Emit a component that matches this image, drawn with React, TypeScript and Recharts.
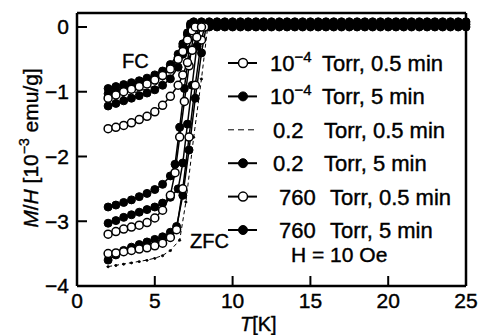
import React from 'react';
import { LineChart, Line, XAxis, YAxis } from 'recharts';

const FONT = '"Liberation Sans", Arial, Helvetica, sans-serif';

// ---- axis ticks ----
const xTicks = [0, 5, 10, 15, 20, 25];
const yTicks = [-4, -3, -2, -1, 0];

// ---- FC (field-cooled) curves ----
const fcT_A = [2, 2.5, 3, 3.5, 4, 4.5, 5, 5.5, 6, 6.5, 6.8, 7.1, 7.4, 7.6];
const fcM_A = [-1.1, -1.05, -1.0, -0.96, -0.92, -0.88, -0.82, -0.75, -0.65, -0.5, -0.38, -0.2, -0.06, 0.0];

const fcT_B = [2, 2.5, 3, 3.5, 4, 4.5, 5, 5.5, 6, 6.5, 6.8, 7.1, 7.3];
const fcM_B = [-0.95, -0.92, -0.89, -0.86, -0.83, -0.79, -0.74, -0.68, -0.58, -0.42, -0.26, -0.09, 0.05];

const fcT_C = [2, 2.5, 3, 3.5, 4, 4.5, 5, 5.5, 6, 6.5, 6.8, 7.1, 7.4];
const fcM_C = [-1.15, -1.11, -1.07, -1.03, -0.99, -0.95, -0.9, -0.83, -0.72, -0.55, -0.36, -0.16, 0.0];

const fcT_D = [2, 2.5, 3, 3.5, 4, 4.5, 5, 5.5, 6, 6.5, 6.8, 7.1, 7.3];
const fcM_D = [-1.22, -1.18, -1.14, -1.1, -1.06, -1.02, -0.97, -0.9, -0.8, -0.62, -0.42, -0.2, 0.0];

const fcT_E = [2, 2.5, 3, 3.5, 4, 4.5, 5, 5.5, 6, 6.5, 6.8, 7.1, 7.4, 7.7, 8.0];
const fcM_E = [-1.57, -1.55, -1.52, -1.48, -1.43, -1.38, -1.31, -1.21, -1.07, -0.9, -0.74, -0.55, -0.36, -0.16, 0.0];

const fcT_F = [2, 2.5, 3, 3.5, 4, 4.5, 5, 5.5, 6, 6.5, 6.8, 7.1, 7.3];
const fcM_F = [-1.03, -1.0, -0.96, -0.92, -0.88, -0.84, -0.79, -0.72, -0.62, -0.47, -0.3, -0.12, 0.03];

// flat part above Tc (dense markers along zero)
const tailT = [7.5, 8, 8.5, 9, 9.5, 10, 10.5, 11, 11.5, 12, 12.5, 13, 13.5, 14, 14.5, 15, 15.5, 16, 16.5, 17, 17.5, 18, 18.5, 19, 19.5, 20, 20.5, 21, 21.5, 22, 22.5, 23, 23.5, 24, 24.5, 25];
const tailM_B = [0.08, 0.08, 0.08, 0.08, 0.08, 0.08, 0.08, 0.08, 0.08, 0.08, 0.08, 0.08, 0.08, 0.08, 0.08, 0.08, 0.08, 0.08, 0.08, 0.08, 0.08, 0.08, 0.08, 0.08, 0.08, 0.08, 0.08, 0.08, 0.08, 0.08, 0.08, 0.08, 0.08, 0.08, 0.08, 0.08];
const tailM_D = [0.0, 0.0, 0.0, 0.0, 0.0, 0.0, 0.0, 0.0, 0.0, 0.0, 0.0, 0.0, 0.0, 0.0, 0.0, 0.0, 0.0, 0.0, 0.0, 0.0, 0.0, 0.0, 0.0, 0.0, 0.0, 0.0, 0.0, 0.0, 0.0, 0.0, 0.0, 0.0, 0.0, 0.0, 0.0, 0.0];
const tailM_F = [0.04, 0.04, 0.04, 0.04, 0.04, 0.04, 0.04, 0.04, 0.04, 0.04, 0.04, 0.04, 0.04, 0.04, 0.04, 0.04, 0.04, 0.04, 0.04, 0.04, 0.04, 0.04, 0.04, 0.04, 0.04, 0.04, 0.04, 0.04, 0.04, 0.04, 0.04, 0.04, 0.04, 0.04, 0.04, 0.04];

// ---- ZFC (zero-field-cooled) curves ----
const zfcT_A = [2, 2.5, 3, 3.5, 4, 4.5, 5, 5.5, 6, 6.3, 6.6, 6.9, 7.2, 7.5, 7.7];
const zfcM_A = [-3.2, -3.16, -3.12, -3.09, -3.06, -3.02, -2.95, -2.83, -2.6, -2.25, -1.7, -1.15, -0.6, -0.1, 0];

const zfcT_B = [2, 2.5, 3, 3.5, 4, 4.5, 5, 5.5, 6, 6.3, 6.6, 6.9, 7.2, 7.4];
const zfcM_B = [-2.78, -2.75, -2.71, -2.67, -2.62, -2.57, -2.51, -2.43, -2.3, -2.12, -1.55, -0.95, -0.35, 0];

const zfcT_C = [2, 2.5, 3, 3.5, 4, 4.5, 5, 5.5, 6, 6.6, 7.0, 7.5, 8.0, 8.4];
const zfcM_C = [-3.7, -3.68, -3.66, -3.64, -3.62, -3.6, -3.57, -3.53, -3.45, -3.29, -2.7, -1.7, -0.8, 0];

const zfcT_D = [2, 2.5, 3, 3.5, 4, 4.5, 5, 5.5, 6, 6.5, 6.8, 7.1, 7.4, 7.7, 7.9];
const zfcM_D = [-3.03, -2.99, -2.94, -2.9, -2.86, -2.82, -2.78, -2.72, -2.63, -2.5, -2.1, -1.5, -0.9, -0.3, 0];

const zfcT_E = [2, 2.5, 3, 3.5, 4, 4.5, 5, 5.5, 6, 6.4, 6.8, 7.2, 7.6, 8.0, 8.2];
const zfcM_E = [-3.5, -3.49, -3.47, -3.45, -3.43, -3.41, -3.38, -3.34, -3.25, -3.13, -2.5, -1.7, -0.9, -0.2, 0];

const zfcT_F = [2, 2.5, 3, 3.5, 4, 4.5, 5, 5.5, 6, 6.4, 6.8, 7.2, 7.6, 8.0, 8.3];
const zfcM_F = [-3.6, -3.52, -3.45, -3.4, -3.36, -3.32, -3.28, -3.24, -3.17, -3.08, -2.6, -1.9, -1.1, -0.4, 0];

// ---- legend labels ----
const legendNums = ['10', '10', '0.2', '0.2', '760', '760'];
const legendSups = ['−4', '−4', '', '', '', ''];
const legendRest = ['Torr, 0.5 min', 'Torr, 5 min', 'Torr, 0.5 min', 'Torr, 5 min', 'Torr, 0.5 min', 'Torr, 5 min'];
const legendKinds = ['open', 'filled', 'dashed', 'filled', 'open', 'filled'];

const pts = (t: number[], m: number[]) => t.map((T, i) => ({ T, m: m[i] }));

const openDot = { r: 4, fill: '#fff', stroke: '#000', strokeWidth: 1.5 };
const filledDot = { r: 4, fill: '#000', stroke: '#000', strokeWidth: 1 };

const fmtY = (v: number) => (v < 0 ? `−${Math.abs(v)}` : `${v}`);

export default function App() {
  const axisStyle = { stroke: '#000', strokeWidth: 2.5 };
  const tickLineStyle = { stroke: '#000', strokeWidth: 2 };
  const tickFont = { fill: '#000', fontSize: 21, fontFamily: FONT, stroke: '#000', strokeWidth: 0.4 };

  const rowY0 = 63;
  const rowStep = 33.4;

  return (
    <div style={{ position: 'absolute', left: 0, top: 0, width: 478, height: 335, background: '#fff' }}>
      <LineChart width={478} height={335} margin={{ top: 12, right: 11, bottom: 48, left: 76 }}>
        <XAxis
          xAxisId="main"
          dataKey="T"
          type="number"
          domain={[0, 25]}
          ticks={xTicks}
          height={1}
          tickSize={-10}
          tickMargin={17}
          axisLine={axisStyle}
          tickLine={tickLineStyle}
          tick={tickFont}
        />
        <XAxis
          xAxisId="top"
          orientation="top"
          dataKey="T"
          type="number"
          domain={[0, 25]}
          ticks={xTicks}
          height={1}
          tickSize={-10}
          axisLine={axisStyle}
          tickLine={tickLineStyle}
          tick={false}
        />
        <YAxis
          yAxisId="main"
          type="number"
          domain={[-4, 0.216]}
          ticks={yTicks}
          width={1}
          tickSize={-10}
          tickMargin={18}
          axisLine={axisStyle}
          tickLine={tickLineStyle}
          tick={tickFont}
          tickFormatter={fmtY}
        />
        <YAxis
          yAxisId="right"
          orientation="right"
          type="number"
          domain={[-4, 0.216]}
          ticks={yTicks}
          width={1}
          tickSize={-10}
          axisLine={axisStyle}
          tickLine={tickLineStyle}
          tick={false}
        />

        {/* dashed series: 0.2 Torr, 0.5 min */}
        <Line xAxisId="main" yAxisId="main" data={pts(fcT_C, fcM_C)} dataKey="m" stroke="#000" strokeWidth={1} strokeDasharray="4 3" dot={false} isAnimationActive={false} />
        <Line xAxisId="main" yAxisId="main" data={pts(zfcT_C, zfcM_C)} dataKey="m" stroke="#000" strokeWidth={1} strokeDasharray="4 3" dot={{ r: 1.2, fill: '#000', stroke: '#000' }} isAnimationActive={false} />

        {/* filled markers */}
        <Line xAxisId="main" yAxisId="main" data={pts(zfcT_B, zfcM_B)} dataKey="m" stroke="#000" strokeWidth={1.5} dot={filledDot} isAnimationActive={false} />
        <Line xAxisId="main" yAxisId="main" data={pts(zfcT_D, zfcM_D)} dataKey="m" stroke="#000" strokeWidth={1.5} dot={filledDot} isAnimationActive={false} />
        <Line xAxisId="main" yAxisId="main" data={pts(zfcT_F, zfcM_F)} dataKey="m" stroke="#000" strokeWidth={1.5} dot={filledDot} isAnimationActive={false} />
        <Line xAxisId="main" yAxisId="main" data={pts(fcT_B, fcM_B)} dataKey="m" stroke="#000" strokeWidth={1.5} dot={filledDot} isAnimationActive={false} />
        <Line xAxisId="main" yAxisId="main" data={pts(fcT_D, fcM_D)} dataKey="m" stroke="#000" strokeWidth={1.5} dot={filledDot} isAnimationActive={false} />
        <Line xAxisId="main" yAxisId="main" data={pts(fcT_F, fcM_F)} dataKey="m" stroke="#000" strokeWidth={1.5} dot={filledDot} isAnimationActive={false} />
        <Line xAxisId="main" yAxisId="main" data={pts(tailT, tailM_B)} dataKey="m" stroke="#000" strokeWidth={1.5} dot={filledDot} isAnimationActive={false} />
        <Line xAxisId="main" yAxisId="main" data={pts(tailT, tailM_D)} dataKey="m" stroke="#000" strokeWidth={1.5} dot={filledDot} isAnimationActive={false} />
        <Line xAxisId="main" yAxisId="main" data={pts(tailT, tailM_F)} dataKey="m" stroke="#000" strokeWidth={1.5} dot={filledDot} isAnimationActive={false} />

        {/* open markers */}
        <Line xAxisId="main" yAxisId="main" data={pts(zfcT_A, zfcM_A)} dataKey="m" stroke="#000" strokeWidth={1.5} dot={openDot} isAnimationActive={false} />
        <Line xAxisId="main" yAxisId="main" data={pts(zfcT_E, zfcM_E)} dataKey="m" stroke="#000" strokeWidth={1.5} dot={openDot} isAnimationActive={false} />
        <Line xAxisId="main" yAxisId="main" data={pts(fcT_A, fcM_A)} dataKey="m" stroke="#000" strokeWidth={1.5} dot={openDot} isAnimationActive={false} />
        <Line xAxisId="main" yAxisId="main" data={pts(fcT_E, fcM_E)} dataKey="m" stroke="#000" strokeWidth={1.5} dot={openDot} isAnimationActive={false} />
      </LineChart>

      <svg width={478} height={335} style={{ position: 'absolute', left: 0, top: 0, pointerEvents: 'none' }} fontFamily={FONT} stroke="#000" strokeWidth={0.4}>
        {/* y axis label */}
        <text transform="translate(38,148) rotate(-90)" textAnchor="middle" fontSize={21} fill="#000">
          <tspan fontStyle="italic">M</tspan>
          <tspan>/</tspan>
          <tspan fontStyle="italic">H</tspan>
          <tspan> [10</tspan>
          <tspan dy={-9} fontSize={14}>−3</tspan>
          <tspan dy={9}> emu/g]</tspan>
        </text>
        {/* x axis label */}
        <text x={240} y={331} fontSize={20} fill="#000">
          <tspan fontStyle="italic">T</tspan>
          <tspan>[K]</tspan>
        </text>
        {/* annotations */}
        <text x={122} y={68} fontSize={20} fill="#000">FC</text>
        <text x={190} y={248} fontSize={20} fill="#000">ZFC</text>
        <text x={291} y={262} fontSize={21} fill="#000">H = 10 Oe</text>

        {/* legend */}
        {legendNums.map((num, i) => {
          const cy = rowY0 + i * rowStep;
          const kind = legendKinds[i];
          const numX = num === '760' ? 279 : num === '0.2' ? 273 : 270;
          const restX = num === '760' ? 330 : num === '0.2' ? 324 : 322;
          return (
            <g key={i}>
              {kind === 'dashed' ? (
                <line x1={228} x2={257} y1={cy} y2={cy} stroke="#000" strokeWidth={1} strokeDasharray="6 4" />
              ) : (
                <line x1={228} x2={257} y1={cy} y2={cy} stroke="#000" strokeWidth={2} />
              )}
              {kind === 'open' && <circle cx={243} cy={cy} r={4.5} fill="#fff" stroke="#000" strokeWidth={1.5} />}
              {kind === 'filled' && <circle cx={243} cy={cy} r={4.5} fill="#000" stroke="#000" strokeWidth={1} />}
              <text x={numX} y={cy + 8} fontSize={22} fill="#000">
                {num}
                {legendSups[i] && (
                  <tspan dy={-9} fontSize={15}>{legendSups[i]}</tspan>
                )}
              </text>
              <text x={restX} y={cy + 8} fontSize={22} fill="#000">{legendRest[i]}</text>
            </g>
          );
        })}
      </svg>
    </div>
  );
}
